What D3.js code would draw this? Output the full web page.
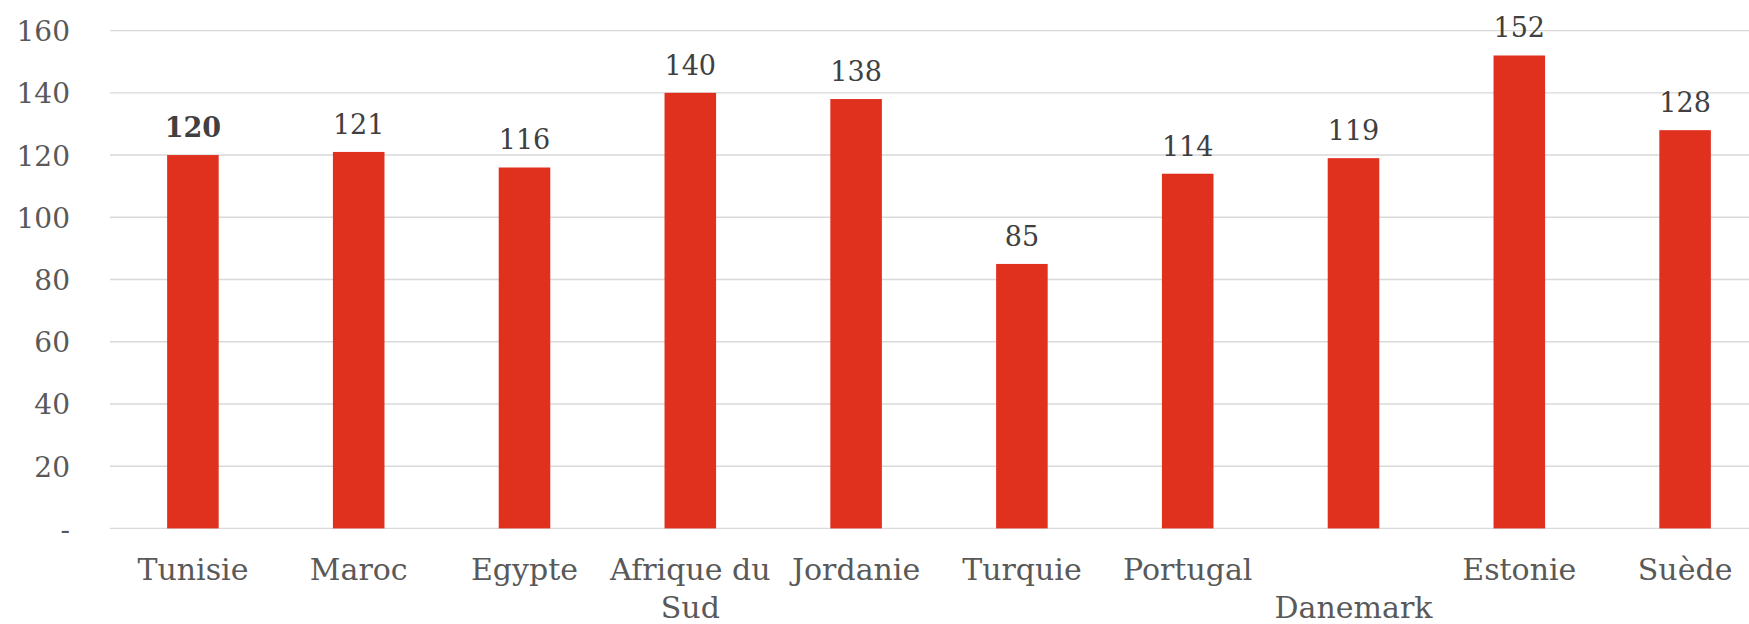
<!DOCTYPE html>
<html>
<head>
<meta charset="utf-8">
<script src="https://cdn.jsdelivr.net/npm/d3@7"></script>
<style>
  html, body { margin: 0; padding: 0; background: #ffffff; }
  svg { display: block; }
  text { font-family: "DejaVu Serif", Georgia, serif; }
</style>
</head>
<body>
<svg id="chart" width="1749" height="624"></svg>
<script>
// Countries shown along the x axis
const categories = ["Tunisie", "Maroc", "Egypte", "Afrique du Sud", "Jordanie",
                    "Turquie", "Portugal", "Danemark", "Estonie", "Suède"];
// Label lines for each country (the second line is used when the name wraps)
const categoryLines = [["Tunisie"], ["Maroc"], ["Egypte"], ["Afrique du", "Sud"], ["Jordanie"],
                       ["Turquie"], ["Portugal"], ["", "Danemark"], ["Estonie"], ["Suède"]];
// Value per country
const values = [120, 121, 116, 140, 138, 85, 114, 119, 152, 128];
// Countries whose value label is emphasised
const emphasised = ["Tunisie"];
// Y axis ticks and their labels
const yTicks = [0, 20, 40, 60, 80, 100, 120, 140, 160];
const yTickLabels = ["-", "20", "40", "60", "80", "100", "120", "140", "160"];

const svg = d3.select("#chart");

const x = d3.scaleBand()
  .domain(categories)
  .range([110, 1768])
  .paddingInner(0.689)
  .paddingOuter(0.3445);

const y = d3.scaleLinear()
  .domain([0, 160])
  .range([528.4, 30.6]);

// Horizontal gridlines (including the baseline)
svg.append("g")
  .selectAll("line")
  .data(yTicks)
  .join("line")
  .attr("x1", 110)
  .attr("x2", 1768)
  .attr("y1", d => y(d))
  .attr("y2", d => y(d))
  .attr("stroke", "#d9d9d9")
  .attr("stroke-width", 1.4);

// Y axis labels
const yAxis = d3.axisLeft(y)
  .tickValues(yTicks)
  .tickFormat((d, i) => yTickLabels[i])
  .tickSize(0)
  .tickPadding(0);

const yG = svg.append("g")
  .attr("transform", "translate(70,0)")
  .call(yAxis);
yG.select(".domain").remove();
yG.selectAll("text")
  .attr("dy", null)
  .attr("y", 10)
  .attr("font-family", "DejaVu Serif, Georgia, serif")
  .attr("font-size", 28)
  .attr("fill", "#595959");

// Bars
svg.append("g")
  .selectAll("rect")
  .data(categories)
  .join("rect")
  .attr("x", d => x(d))
  .attr("width", x.bandwidth())
  .attr("y", (d, i) => y(values[i]))
  .attr("height", (d, i) => y(0) - y(values[i]))
  .attr("fill", "#E0311F");

// Value labels above bars
svg.append("g")
  .selectAll("text")
  .data(categories)
  .join("text")
  .attr("x", d => x(d) + x.bandwidth() / 2)
  .attr("y", (d, i) => y(values[i]) - 18)
  .attr("text-anchor", "middle")
  .attr("font-size", 27)
  .attr("font-weight", d => emphasised.includes(d) ? "bold" : "normal")
  .attr("fill", "#404040")
  .text((d, i) => values[i]);

// X axis category labels
const xAxis = d3.axisBottom(x).tickSize(0).tickFormat(() => "");
const xG = svg.append("g")
  .attr("transform", `translate(0,${y(0)})`)
  .call(xAxis);
xG.select(".domain").remove();
xG.selectAll(".tick").each(function(d, i) {
  const t = d3.select(this).append("text")
    .attr("text-anchor", "middle")
    .attr("font-family", "DejaVu Serif, Georgia, serif")
    .attr("font-size", 30)
    .attr("fill", "#595959");
  categoryLines[i].forEach((line, k) => {
    t.append("tspan")
      .attr("x", 0)
      .attr("y", 52 + k * 37.5)
      .text(line);
  });
});
</script>
</body>
</html>
